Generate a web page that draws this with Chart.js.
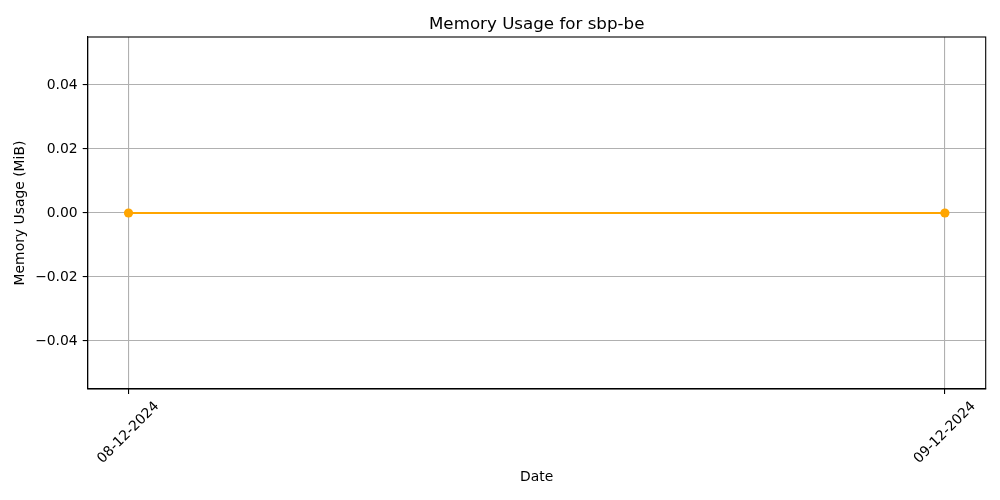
<!DOCTYPE html>
<html>
<head>
<meta charset="utf-8">
<script src="https://cdn.jsdelivr.net/npm/chart.js@4"></script>
<style>
html,body{margin:0;padding:0;background:#fff;}
#wrap{width:1000px;height:500px;position:relative;}
</style>
</head>
<body>
<div id="wrap"><canvas id="c" width="1000" height="500"></canvas></div>
<script>
// ---- data ----
const dateLabels = ['08-12-2024', '09-12-2024'];
const dateIndex = [0, 1];
const memoryUsage = [0, 0];
const yTicks = [-0.04, -0.02, 0.00, 0.02, 0.04];
const chartTitle = 'Memory Usage for sbp-be';
const xTitle = 'Date';
const yTitle = 'Memory Usage (MiB)';

const FONT = 'DejaVu Sans';
const AREA = {left: 87.7, right: 985.7, top: 37, bottom: 389};

const fmtY = v => v.toFixed(2).replace('-', '\u2212');

const framePlugin = {
  id: 'frame',
  afterDraw(chart) {
    const {ctx, chartArea: a} = chart;
    ctx.save();
    ctx.strokeStyle = '#000';
    ctx.lineWidth = 1.1;
    ctx.strokeRect(a.left, a.top, a.right - a.left, a.bottom - a.top);
    // title centered over the plot area (matplotlib style)
    ctx.fillStyle = '#000';
    ctx.font = '16.7px "' + FONT + '"';
    ctx.textAlign = 'center';
    ctx.textBaseline = 'alphabetic';
    ctx.fillText(chartTitle, (a.left + a.right) / 2, a.top - 8);
    // rotated x tick labels, centered on tick (matplotlib style)
    const xs = chart.scales.x;
    ctx.font = '13.9px "' + FONT + '"';
    ctx.textAlign = 'center';
    ctx.textBaseline = 'middle';
    dateIndex.forEach((v, i) => {
      const txt = dateLabels[i];
      const m = ctx.measureText(txt);
      const h = 13.9 * 1.1;
      const bh = (m.width + h) * Math.SQRT1_2;
      const px = xs.getPixelForValue(v);
      const py = a.bottom + 9.7 + bh / 2;
      ctx.save();
      ctx.translate(px, py);
      ctx.rotate(-Math.PI / 4);
      ctx.fillText(txt, 0, 0);
      ctx.restore();
    });
    ctx.restore();
  }
};

new Chart(document.getElementById('c'), {
  type: 'line',
  data: {
    datasets: [{
      data: dateIndex.map((x, i) => ({x: x, y: memoryUsage[i]})),
      borderColor: '#ffa500',
      backgroundColor: '#ffa500',
      borderWidth: 2,
      pointRadius: 4.6,
      pointHoverRadius: 4.6,
      pointBorderWidth: 0,
      pointBackgroundColor: '#ffa500',
      tension: 0
    }]
  },
  options: {
    responsive: false,
    animation: false,
    events: [],
    layout: {padding: {left: 0, right: 1000 - AREA.right, top: AREA.top, bottom: 0}},
    plugins: {
      legend: {display: false},
      tooltip: {enabled: false},
      title: {display: false}
    },
    scales: {
      x: {
        type: 'linear',
        min: -0.05,
        max: 1.05,
        afterBuildTicks: s => { s.ticks = dateIndex.map(v => ({value: v})); },
        afterFit: s => { s.height = 500 - AREA.bottom; },
        ticks: {display: false},
        grid: {color: '#b0b0b0', lineWidth: 1.1, tickColor: '#000', tickLength: 5, drawTicks: true},
        border: {display: true, color: '#000', width: 1.1},
        title: {
          display: true, text: xTitle, color: '#000',
          font: {family: FONT, size: 13.9, lineHeight: 1.2},
          padding: {top: 0, bottom: 14.7}
        }
      },
      y: {
        type: 'linear',
        min: -0.055,
        max: 0.055,
        afterBuildTicks: s => { s.ticks = yTicks.map(v => ({value: v})); },
        afterFit: s => { s.width = AREA.left; },
        ticks: {
          color: '#000',
          font: {family: FONT, size: 13.9},
          padding: 5,
          callback: v => fmtY(v)
        },
        grid: {color: '#b0b0b0', lineWidth: 1.1, tickColor: '#000', tickLength: 5, drawTicks: true},
        border: {display: true, color: '#000', width: 1.1},
        title: {
          display: true, text: yTitle, color: '#000',
          font: {family: FONT, size: 13.9, lineHeight: 1.2},
          padding: {top: 12, bottom: 0}
        }
      }
    }
  },
  plugins: [framePlugin]
});
</script>
</body>
</html>
